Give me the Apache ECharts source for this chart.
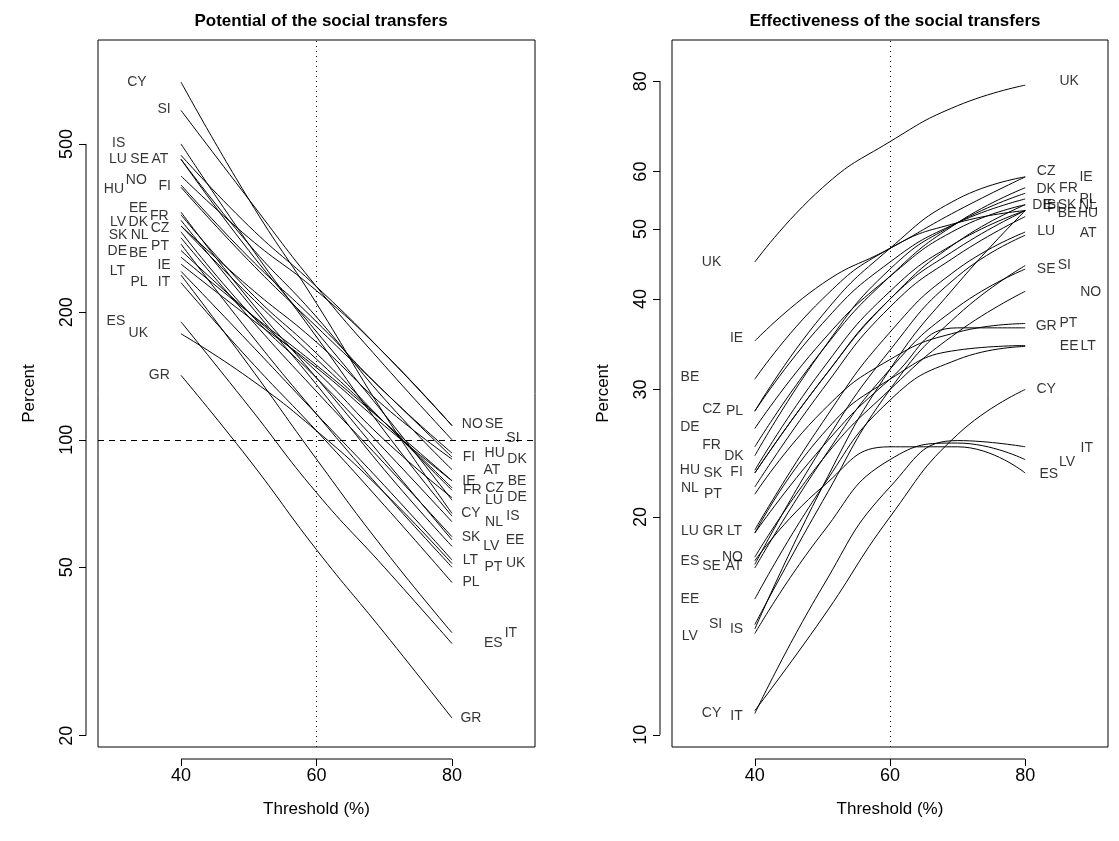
<!DOCTYPE html>
<html>
<head>
<meta charset="utf-8">
<script src="https://cdn.jsdelivr.net/npm/echarts@6/dist/echarts.min.js"></script>
<style>html,body{margin:0;background:#fff}#main{width:1119px;height:841px}</style>
</head>
<body>
<div id="main"></div>
<script>
"use strict";

// thresholds where curves are sampled
var potX = [40, 50, 60, 70, 80];
var effX = [40, 50, 60, 70, 80];

// potential of the social transfers (percent), one curve per country
var potCountries = ["CY","SI","IS","LU","SE","AT","HU","NO","FI","EE","FR","LV","DK","CZ","SK","NL","PT","DE","BE","IE","LT","PL","IT","ES","UK","GR"];
var potValues = [
    [700, 370, 210, 115, 67], [600, 370, 230, 150, 100], [500, 290, 175, 105, 66],
    [460, 280, 180, 115, 72], [470, 320, 230, 160, 108], [460, 290, 195, 125, 85],
    [400, 270, 190, 130, 93], [420, 300, 225, 160, 108], [395, 265, 185, 130, 91],
    [345, 215, 140, 90, 58], [340, 225, 160, 110, 76], [330, 210, 135, 85, 56],
    [320, 230, 170, 120, 90], [320, 220, 155, 110, 77], [300, 195, 130, 88, 59],
    [310, 200, 140, 95, 64], [290, 180, 115, 75, 50], [280, 200, 145, 100, 73],
    [270, 200, 150, 110, 80], [260, 195, 148, 108, 80], [250, 170, 115, 78, 52],
    [235, 155, 105, 70, 46], [245, 150, 90, 55, 35], [190, 120, 75, 50, 33],
    [178, 140, 105, 75, 51], [142, 90, 55, 35, 22]
];

// effectiveness of the social transfers (percent)
var effCountries = ["UK","IE","BE","CZ","PL","DE","FR","DK","HU","SK","FI","NL","PT","LU","GR","LT","ES","SE","AT","NO","EE","SI","IS","LV","CY","IT"];
var effValues = [
    [45, 57, 66, 74, 79], [35, 42, 47, 53, 59], [31, 40, 47, 51, 53], [28, 38, 47, 55, 59],
    [28, 37, 45, 51, 55], [26.5, 35, 43, 50, 54], [25, 34, 43, 51, 57], [24.3, 34, 44, 51, 56],
    [23.2, 32, 41, 48, 53], [23, 31, 40, 48, 54], [23, 31, 40, 47, 53], [22, 30, 39, 46, 52],
    [21.5, 28, 33, 36, 37], [19.2, 27, 36, 44, 49.5], [19, 25, 31, 36.5, 36.5], [19, 26, 31, 34, 34.5],
    [17.4, 22, 25, 25, 23], [17, 24, 32, 39, 44], [17.2, 25, 34, 43, 49], [17.6, 24, 30, 36, 41],
    [15.4, 22, 29, 33, 34.4], [14.2, 21, 30, 38, 44.5], [14, 22, 32, 42, 53], [13.8, 19, 24, 25.3, 24],
    [10.8, 14.5, 20, 26, 30], [10.7, 16, 22, 25.5, 25]
];

// text labels: [name, threshold, percent]
var potLabels = [
    ["CY",33.5,700],["SI",37.5,604],["IS",30.8,502],["LU",30.7,460],["SE",33.9,460],["AT",36.9,460],
    ["HU",30.1,392],["NO",33.4,411],["FI",37.6,398],["EE",33.7,353],["FR",36.8,338],["LV",30.7,327],
    ["DK",33.7,327],["CZ",36.9,317],["SK",30.7,305],["NL",33.9,305],["PT",36.9,287],["DE",30.6,279],
    ["BE",33.7,276],["IE",37.5,259],["LT",30.6,250],["PL",33.8,236],["IT",37.5,236],["ES",30.4,191],
    ["UK",33.7,179],["GR",36.8,142],
    ["NO",83,109],["SE",86.2,109],["SI",89,101],["FI",82.5,91],["HU",86.3,93],["DK",89.6,90],
    ["AT",85.9,85],["IE",82.5,80],["BE",89.6,80],["FR",83,76],["CZ",86.3,77],["LU",86.2,72],
    ["DE",89.6,73],["CY",82.8,67],["NL",86.2,64],["IS",89,66],["SK",82.8,59],["LV",85.8,56],
    ["EE",89.3,58],["LT",82.7,52],["PT",86.1,50],["UK",89.4,51],["PL",82.8,46],["ES",86.1,33],
    ["IT",88.7,35],["GR",82.8,22]
];
var effLabels = [
    ["UK",33.6,45],["IE",37.3,35.3],["BE",30.4,31.2],["CZ",33.6,28.2],["PL",37,28],["DE",30.4,26.6],
    ["FR",33.6,25.1],["DK",36.9,24.3],["HU",30.4,23.2],["SK",33.8,23],["FI",37.3,23.1],["NL",30.4,21.9],
    ["PT",33.8,21.5],["LU",30.4,19.1],["GR",33.8,19.1],["LT",37,19.1],["ES",30.4,17.4],["SE",33.6,17.1],
    ["NO",36.7,17.6],["AT",36.9,17.1],["EE",30.4,15.4],["SI",34.2,14.2],["IS",37.3,14],["LV",30.4,13.7],
    ["CY",33.6,10.7],["IT",37.3,10.6],
    ["UK",86.5,80],["CZ",83.1,60],["IE",89,59],["DK",83.1,56.7],["FR",86.4,57],["PL",89.3,55],
    ["DE",82.5,54],["IS",83.6,54],["FI",84.2,53.5],["SK",86.2,54],["NL",89.3,54],["BE",86.2,52.5],
    ["HU",89.3,52.5],["LU",83.1,49.7],["AT",89.3,49.3],["SE",83.1,44],["SI",85.8,44.5],["NO",89.7,40.9],
    ["GR",83.1,36.7],["PT",86.4,37],["EE",86.5,34.4],["LT",89.3,34.4],["CY",83.1,30],
    ["ES",83.5,22.9],["LV",86.2,23.8],["IT",89.1,24.9]
];

var potTicks = [20, 50, 100, 200, 500];
var effTicks = [10, 20, 30, 40, 50, 60, 80];
var xTicks = [40, 60, 80];

var lg = Math.log10;
var font = "Liberation Sans, Arial, sans-serif";

function yAxisFor(idx, lo, hi, ticks) {
    return {
        type: 'value', gridIndex: idx, min: lg(lo), max: lg(hi), offset: 12,
        name: 'Percent', nameLocation: 'middle', nameGap: 48, nameRotate: 90,
        nameTextStyle: { fontSize: 17, color: '#000', fontFamily: font },
        splitLine: { show: false }, axisLine: { show: false },
        axisTick: { show: true, length: 7, lineStyle: { color: '#000' }, customValues: ticks.map(lg) },
        axisLabel: { rotate: 90, fontSize: 18, color: '#000', fontFamily: font, margin: 10,
            customValues: ticks.map(lg), formatter: function (v) { return Math.round(Math.pow(10, v)); } }
    };
}

function xAxisFor(idx) {
    return {
        type: 'value', gridIndex: idx, min: 27.75, max: 92.25, offset: 12,
        name: 'Threshold (%)', nameLocation: 'middle', nameGap: 42,
        nameTextStyle: { fontSize: 17, color: '#000', fontFamily: font },
        splitLine: { show: false }, axisLine: { show: false },
        axisTick: { show: true, length: 7, lineStyle: { color: '#000' }, customValues: xTicks },
        axisLabel: { fontSize: 18, color: '#000', fontFamily: font, margin: 8, customValues: xTicks }
    };
}

// axis segment from first to last tick, drawn R-style outside the box
function axisSegment(idx, ticks, isY) {
    var a = isY ? lg(ticks[0]) : ticks[0];
    var b = isY ? lg(ticks[ticks.length - 1]) : ticks[ticks.length - 1];
    return {
        type: 'custom', xAxisIndex: idx, yAxisIndex: idx, clip: false, silent: true,
        data: [[a, b]],
        renderItem: function (params, api) {
            var cs = params.coordSys;
            var p1, p2;
            if (isY) {
                p1 = [cs.x - 12, api.coord([40, a])[1]];
                p2 = [cs.x - 12, api.coord([40, b])[1]];
            } else {
                p1 = [api.coord([a, 0])[0], cs.y + cs.height + 12];
                p2 = [api.coord([b, 0])[0], cs.y + cs.height + 12];
            }
            return { type: 'line', shape: { x1: p1[0], y1: p1[1], x2: p2[0], y2: p2[1] },
                style: { stroke: '#000', lineWidth: 1 } };
        }
    };
}

var series = [];
potCountries.forEach(function (c, i) {
    series.push({
        type: 'line', name: c, xAxisIndex: 0, yAxisIndex: 0, smooth: true, symbol: 'none',
        lineStyle: { color: '#000', width: 1 }, silent: true,
        data: potX.map(function (x, j) { return [x, lg(potValues[i][j])]; })
    });
});
effCountries.forEach(function (c, i) {
    series.push({
        type: 'line', name: c, xAxisIndex: 1, yAxisIndex: 1, smooth: true, symbol: 'none',
        lineStyle: { color: '#000', width: 1 }, silent: true,
        data: effX.map(function (x, j) { return [x, lg(effValues[i][j])]; })
    });
});

function labelSeries(idx, labels) {
    return {
        type: 'scatter', xAxisIndex: idx, yAxisIndex: idx, symbolSize: 0, silent: true,
        data: labels.map(function (l) { return [l[1], lg(l[2]), l[0]]; }),
        label: { show: true, position: 'inside', fontSize: 14, color: '#000', fontFamily: font,
            formatter: function (p) { return p.data[2]; } }
    };
}
series.push(labelSeries(0, potLabels));
series.push(labelSeries(1, effLabels));

series.push({
    type: 'line', xAxisIndex: 0, yAxisIndex: 0, data: [], silent: true,
    markLine: { symbol: 'none', silent: true, label: { show: false },
        data: [
            { xAxis: 60, lineStyle: { type: [1, 4], color: '#000', width: 1 } },
            { yAxis: lg(100), lineStyle: { type: [6, 5], color: '#000', width: 1 } }
        ] }
});
series.push({
    type: 'line', xAxisIndex: 1, yAxisIndex: 1, data: [], silent: true,
    markLine: { symbol: 'none', silent: true, label: { show: false },
        data: [{ xAxis: 60, lineStyle: { type: [1, 4], color: '#000', width: 1 } }] }
});

series.push(axisSegment(0, potTicks, true));
series.push(axisSegment(1, effTicks, true));
series.push(axisSegment(0, xTicks, false));
series.push(axisSegment(1, xTicks, false));

var chart = echarts.init(document.getElementById('main'));
chart.setOption({
    animation: false,
    backgroundColor: '#fff',
    title: [
        { text: 'Potential of the social transfers', left: 316, top: 8, textAlign: 'center',
            textStyle: { fontSize: 17, fontWeight: 'bold', color: '#000', fontFamily: font } },
        { text: 'Effectiveness of the social transfers', left: 890, top: 8, textAlign: 'center',
            textStyle: { fontSize: 17, fontWeight: 'bold', color: '#000', fontFamily: font } }
    ],
    grid: [
        { left: 98, top: 40, width: 437, height: 707, show: true, borderColor: '#000', borderWidth: 1 },
        { left: 672, top: 40, width: 436, height: 707, show: true, borderColor: '#000', borderWidth: 1 }
    ],
    xAxis: [xAxisFor(0), xAxisFor(1)],
    yAxis: [yAxisFor(0, 18.8, 880, potTicks), yAxisFor(1, 9.62, 91.2, effTicks)],
    series: series
});
</script>
</body>
</html>
